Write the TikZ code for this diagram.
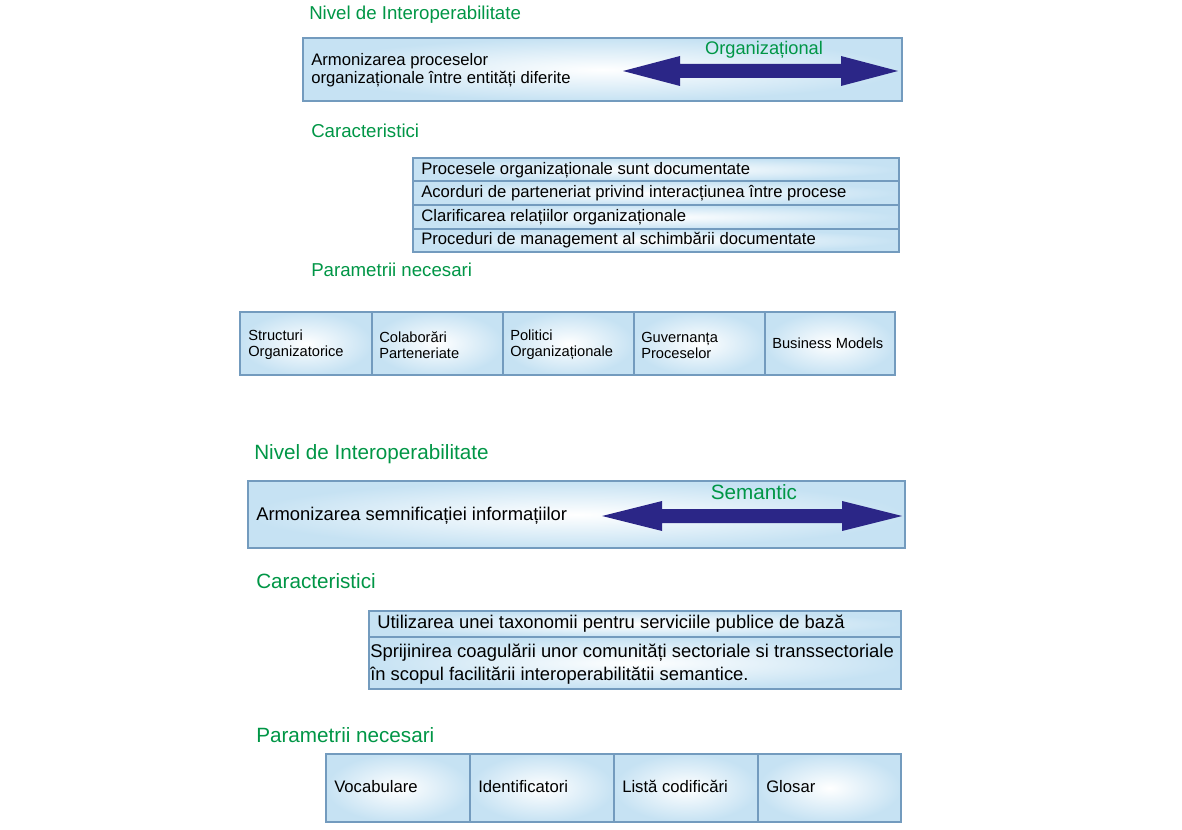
\documentclass[tikz,border=0pt]{standalone}
\usepackage{fontspec}
\setmainfont{Liberation Sans}
\usetikzlibrary{calc}
\definecolor{verde}{RGB}{0,150,70}
\definecolor{albastru}{RGB}{43,38,135}
\definecolor{margine}{RGB}{115,155,190}
\definecolor{fundal}{RGB}{198,226,243}
\tikzset{
  celula/.style={draw=margine, line width=0.8pt, shading=radial, inner color=white, outer color=fundal},
  titlu/.style={anchor=west, inner sep=0pt, text=verde, font=\fontsize{14}{17}\selectfont},
  titlu2/.style={titlu, font=\fontsize{15.5}{18}\selectfont},
  eticheta/.style={inner sep=0pt, text=verde, font=\fontsize{13.7}{16}\selectfont},
  eticheta2/.style={eticheta, font=\fontsize{15.5}{18}\selectfont},
  corp/.style={anchor=west, inner sep=0pt, align=left, text depth=0.25em, font=\fontsize{12.5}{13.5}\selectfont},
  corp2/.style={corp, font=\fontsize{13.8}{16}\selectfont},
  rand/.style={anchor=west, inner sep=0pt, align=left, font=\fontsize{12.5}{14}\selectfont},
  rand2/.style={anchor=west, inner sep=0pt, align=left, font=\fontsize{13.8}{17.25}\selectfont},
  param/.style={anchor=west, inner sep=0pt, align=left, font=\fontsize{11}{12}\selectfont},
  sageata/.style={fill=albastru}
}
\newcommand{\Celula}[4]{%
  \path[celula] (#1,#2) rectangle (#3,#4);
}
\newcommand{\Sageata}[4]{%
  \fill[sageata] (#1,#3) -- (#1+#4,#3-15) -- (#1+#4,#3-7) -- (#2-#4,#3-7) -- (#2-#4,#3-15)
    -- (#2,#3) -- (#2-#4,#3+15) -- (#2-#4,#3+7) -- (#1+#4,#3+7) -- (#1+#4,#3+15) -- cycle;
}

\begin{document}
\begin{tikzpicture}[x=0.75pt,y=-0.75pt]
  \path[fill=white] (0,0) rectangle (1182,830);
  % nivel organizational
  \node[titlu] (nivel1) at (309,15) {Nivel de Interoperabilitate};
  \Celula{303}{38}{902}{101}
  \node[corp] (armon1) at (311,70) {Armonizarea proceselor\\organizaționale între entități diferite};
  \Sageata{623}{898}{71}{57}
  \node[eticheta] (org) at (764,50) {Organizațional};
  \node[titlu] (carac1) at (311,131) {Caracteristici};
  \Celula{413}{158}{899}{181}
  \Celula{413}{181}{899}{205}
  \Celula{413}{205}{899}{229}
  \Celula{413}{229}{899}{252}
  \node[rand] (r11) at (421,170) {Procesele organizaționale sunt documentate};
  \node[rand] (r12) at (421,193) {Acorduri de parteneriat privind interacțiunea între procese};
  \node[rand] (r13) at (421,217) {Clarificarea relațiilor organizaționale};
  \node[rand] (r14) at (421,240) {Proceduri de management al schimbării documentate};
  \node[titlu] (param1) at (311,270) {Parametrii necesari};
  \Celula{240}{312}{372}{375}
  \Celula{372}{312}{503}{375}
  \Celula{503}{312}{634}{375}
  \Celula{634}{312}{765}{375}
  \Celula{765}{312}{895}{375}
  \node[param] (p11) at (248,345) {Structuri\\Organizatorice};
  \node[param] (p12) at (379,345) {Colaborări\\Parteneriate};
  \node[param] (p13) at (510,345) {Politici\\Organizaționale};
  \node[param] (p14) at (641,345) {Guvernanța\\Proceselor};
  \node[param] (p15) at (772,343) {Business Models};
  % nivel semantic
  \node[titlu2] (nivel2) at (254,454) {Nivel de Interoperabilitate};
  \Celula{248}{481}{905}{548}
  \node[corp2] (armon2) at (256,515) {Armonizarea semnificației informațiilor};
  \Sageata{602}{902}{516}{60}
  \node[eticheta2] (sem) at (754,492) {Semantic};
  \node[titlu2] (carac2) at (256,581) {Caracteristici};
  \Celula{369}{611}{901}{637}
  \Celula{369}{637}{901}{689}
  \node[rand2] (r21) at (377,624) {Utilizarea unei taxonomii pentru serviciile publice de bază};
  \node[rand2] (r22) at (370,664) {Sprijinirea coagulării unor comunități sectoriale si transsectoriale\\în scopul facilitării interoperabilitătii semantice.};
  \node[titlu2] (param2) at (256,735) {Parametrii necesari};
  \Celula{326}{754}{470}{822}
  \Celula{470}{754}{614}{822}
  \Celula{614}{754}{758}{822}
  \Celula{758}{754}{901}{822}
  \node[corp] (p21) at (334,788) {Vocabulare};
  \node[corp] (p22) at (478,788) {Identificatori};
  \node[corp] (p23) at (622,788) {Listă codificări};
  \node[corp] (p24) at (766,788) {Glosar};
\end{tikzpicture}
\end{document}
